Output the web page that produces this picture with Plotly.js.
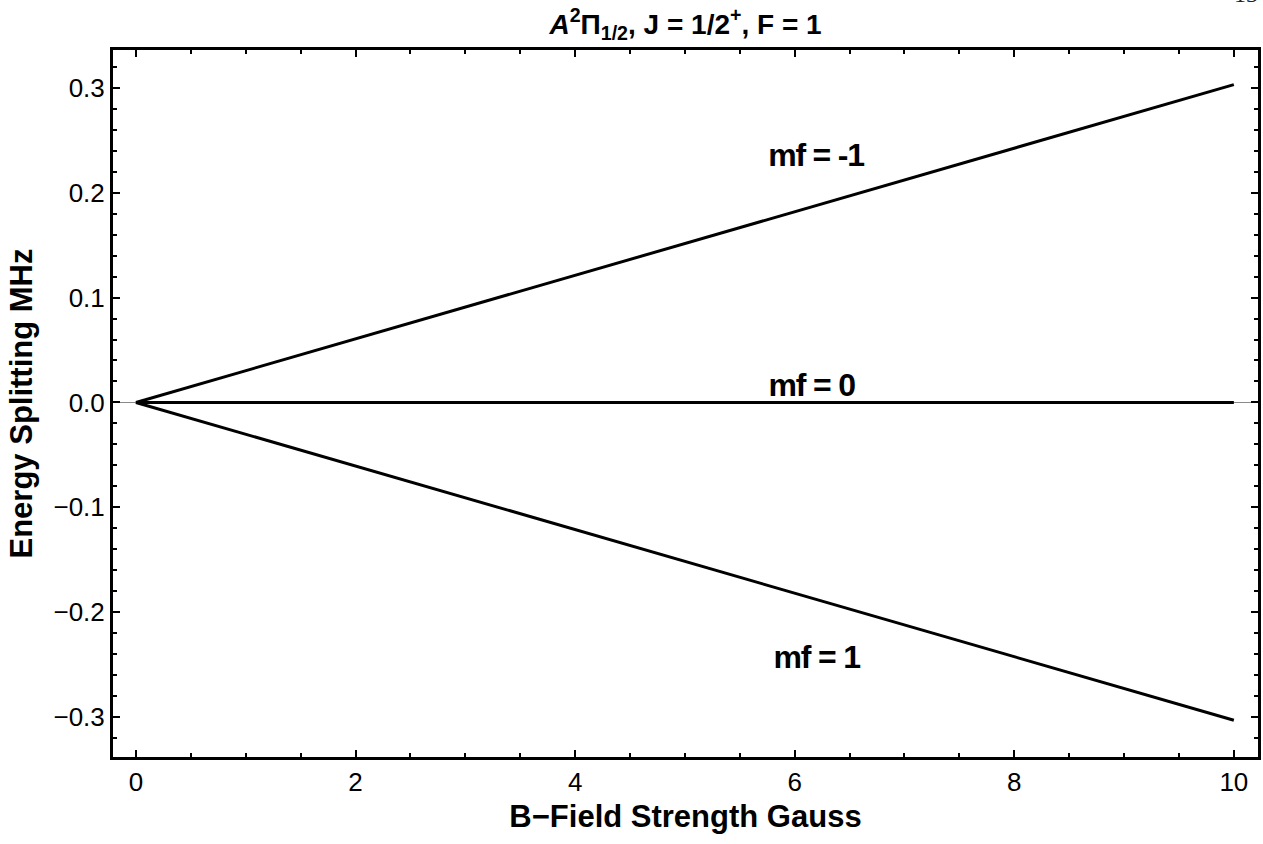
<!DOCTYPE html>
<html>
<head>
<meta charset="utf-8">
<script src="https://cdn.plot.ly/plotly-3.0.1.min.js"></script>
<style>
html,body{margin:0;padding:0;background:#fff;}
#chart{width:1263px;height:844px;}
.annotation-text.tight{letter-spacing:-1.2px;}
</style>
</head>
<body>
<div id="chart"></div>
<script>
const bField = [0, 10];
const mfMinus1 = [0, 0.303];
const mfZero = [0, 0];
const mfPlus1 = [0, -0.303];
const labels = ["mf = -1", "mf = 0", "mf = 1"];
const labelX = [6.19, 6.15, 6.2];
const labelY = [0.236, 0.017, -0.243];
const xTicks = [0, 2, 4, 6, 8, 10];
const yTicks = [-0.3, -0.2, -0.1, 0, 0.1, 0.2, 0.3];

const lineStyle = {color: 'black', width: 3};
const traces = [
  {x: bField, y: mfMinus1, mode: 'lines', line: lineStyle, hoverinfo: 'skip'},
  {x: bField, y: mfZero, mode: 'lines', line: lineStyle, hoverinfo: 'skip'},
  {x: bField, y: mfPlus1, mode: 'lines', line: lineStyle, hoverinfo: 'skip'}
];

const fam = 'Liberation Sans, Arial, sans-serif';
const annotations = labels.map((t, i) => ({
  x: labelX[i], y: labelY[i], xref: 'x', yref: 'y', text: '<b>' + t + '</b>',
  showarrow: false, font: {family: fam, size: 32, color: 'black'}
}));
annotations.push({
  x: 0.9895, y: 1.058, xref: 'paper', yref: 'paper', xanchor: 'center', yanchor: 'bottom',
  text: '13', showarrow: false,
  font: {family: 'Liberation Serif, serif', size: 24, color: '#222'}
});

const axisCommon = {
  showline: true, linecolor: 'black', linewidth: 3, mirror: 'allticks',
  ticks: 'inside', ticklen: 7, tickwidth: 2, tickcolor: 'black',
  showgrid: false, layer: 'above traces',
  tickfont: {family: fam, size: 26, color: 'black'}
};

const layout = {
  width: 1263, height: 844,
  margin: {l: 113, r: 5, t: 50, b: 86.5},
  paper_bgcolor: 'white', plot_bgcolor: 'white',
  showlegend: false,
  title: {text: '<b><i>A</i><sup>2</sup>Π<sub>1/2</sub>, J = 1/2<sup>+</sup>, F = 1</b>',
    font: {family: fam, size: 28, color: 'black'},
    x: 0.5, xref: 'paper', xanchor: 'center', y: 1 - 24 / 844, yref: 'container', yanchor: 'middle'},
  xaxis: Object.assign({}, axisCommon, {
    range: [-0.209, 10.22], tickvals: xTicks, zeroline: false,
    minor: {dtick: 0.5, tick0: 0, ticks: 'inside', ticklen: 4, tickwidth: 2, tickcolor: 'black'},
    title: {text: '<b>B−Field Strength Gauss</b>', font: {family: fam, size: 31, color: 'black'}, standoff: 10}
  }),
  yaxis: Object.assign({}, axisCommon, {
    range: [-0.338, 0.336], tickvals: yTicks, tickformat: '.1f',
    zeroline: true, zerolinecolor: '#8a8a8a', zerolinewidth: 1,
    minor: {dtick: 0.02, tick0: 0, ticks: 'inside', ticklen: 4, tickwidth: 2, tickcolor: 'black'},
    title: {text: '<b>Energy Splitting MHz</b>', font: {family: fam, size: 31, color: 'black'}, standoff: 12}
  }),
  annotations: annotations
};

Plotly.newPlot('chart', traces, layout, {staticPlot: true, displayModeBar: false}).then(() => {
  document.querySelectorAll('.annotation-text').forEach((el, i) => {
    if (i < labels.length) el.classList.add('tight');
  });
});
</script>
</body>
</html>
